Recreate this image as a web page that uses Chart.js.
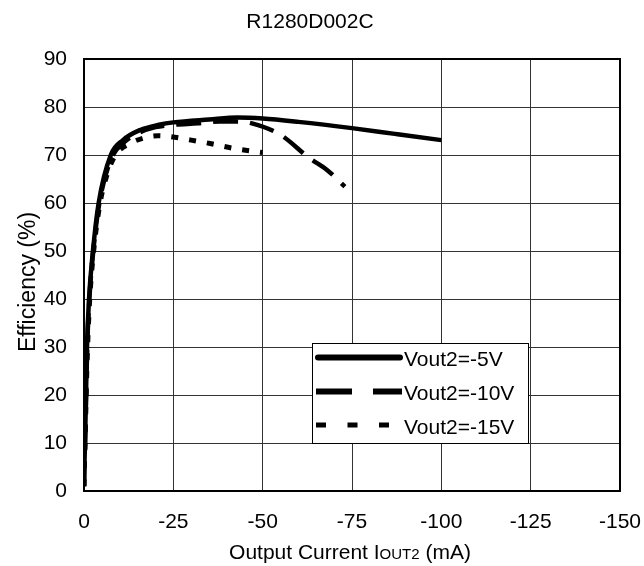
<!DOCTYPE html>
<html><head><meta charset="utf-8">
<script src="https://cdn.jsdelivr.net/npm/chart.js@4"></script>
<style>html,body{margin:0;padding:0;background:#fff;} canvas{display:block;}</style>
</head><body>
<canvas id="c" width="644" height="566"></canvas>
<script>
const chartTitle = 'R1280D002C';
const yTitle = 'Efficiency (%)';
const xTitleParts = ['Output Current I', 'OUT2', ' (mA)'];
const seriesLabels = ['Vout2=-5V', 'Vout2=-10V', 'Vout2=-15V'];

const iout5 = [0, -0.1, -0.28, -0.56, -0.84, -1.4, -2.5, -4.1, -7.5, -10.9, -15.7, -21, -25, -35, -43, -50, -60, -75, -87, -100];
const eff5  = [1, 5, 10, 20, 30, 40, 50, 60, 70, 73.1, 75.2, 76.3, 76.8, 77.4, 77.8, 77.6, 76.9, 75.6, 74.4, 73.1];

const iout10 = [0, -0.1, -0.3, -0.6, -0.9, -1.5, -2.6, -4.3, -7.8, -11, -15, -20, -25, -32, -38, -43, -47, -55, -63, -68, -73];
const eff10  = [1, 5, 10, 20, 30, 40, 50, 60, 69.5, 72.5, 74.5, 75.8, 76.3, 76.6, 77, 77, 76.6, 74.2, 69.4, 66.9, 63.4];

const iout15 = [0, -0.1, -0.3, -0.6, -1, -1.6, -2.7, -4.5, -6.5, -8.8, -12.9, -17.5, -20.7, -25.4, -30, -35.3, -41.7, -48, -50];
const eff15  = [1, 5, 10, 20, 30, 40, 50, 60, 66, 70, 72.4, 73.7, 74, 73.7, 73.1, 72.4, 71.4, 70.7, 70.5];

const xTicks = [0, -25, -50, -75, -100, -125, -150];
const yTicks = [0, 10, 20, 30, 40, 50, 60, 70, 80, 90];

const FONT = '"Liberation Sans", Arial, sans-serif';
const toPts = (xs, ys) => xs.map((x, i) => ({x: x, y: ys[i]}));

const decor = {
  id: 'decor',
  afterDatasetsDraw(chart) {
    const {ctx, chartArea: a} = chart;
    ctx.save();
    ctx.setLineDash([]);
    ctx.strokeStyle = '#000';
    ctx.lineWidth = 2;
    ctx.strokeRect(a.left, a.top, a.right - a.left, a.bottom - a.top);
    const bx = 312, by = 343, bw = 216, bh = 100;
    ctx.fillStyle = '#fff';
    ctx.fillRect(bx, by, bw, bh);
    ctx.lineWidth = 1;
    ctx.strokeRect(bx + 0.5, by + 0.5, bw, bh);
    const rows = [
      {y: 357.5, dash: [], w: 6, cap: 'round', x0: 318, x1: 400, base: 366},
      {y: 391.5, dash: [36, 21], w: 6, cap: 'butt', x0: 316, x1: 402, base: 400},
      {y: 425, dash: [10, 21.5], w: 5, cap: 'butt', x0: 316, x1: 390, base: 433.5}
    ];
    ctx.font = '21px ' + FONT;
    ctx.textBaseline = 'alphabetic';
    ctx.textAlign = 'left';
    rows.forEach((r, i) => {
      ctx.beginPath();
      ctx.setLineDash(r.dash);
      ctx.lineCap = r.cap;
      ctx.lineWidth = r.w;
      ctx.moveTo(r.x0, r.y);
      ctx.lineTo(r.x1, r.y);
      ctx.stroke();
      ctx.fillStyle = '#000';
      ctx.fillText(chart.data.datasets[i].label, 404, r.base);
    });
    ctx.restore();
  },
  afterDraw(chart) {
    const {ctx} = chart;
    ctx.save();
    ctx.fillStyle = '#000';
    const fonts = ['21px ' + FONT, '15px ' + FONT, '21px ' + FONT];
    let widths = xTitleParts.map((t, i) => { ctx.font = fonts[i]; return ctx.measureText(t).width; });
    const total = widths.reduce((s, w) => s + w, 0);
    let x = 350 - total / 2;
    ctx.textBaseline = 'alphabetic';
    ctx.textAlign = 'left';
    xTitleParts.forEach((t, i) => { ctx.font = fonts[i]; ctx.fillText(t, x, 559); x += widths[i]; });
    ctx.translate(35, 282);
    ctx.rotate(-Math.PI / 2);
    ctx.font = '23px ' + FONT;
    ctx.textAlign = 'center';
    ctx.fillText(yTitle, 0, 0);
    ctx.restore();
  }
};

new Chart(document.getElementById('c'), {
  type: 'line',
  data: {
    datasets: [
      {label: seriesLabels[0], data: toPts(iout5, eff5), borderColor: '#000', borderWidth: 4.5, borderDash: []},
      {label: seriesLabels[1], data: toPts(iout10, eff10), borderColor: '#000', borderWidth: 4.5, borderDash: [25, 12]},
      {label: seriesLabels[2], data: toPts(iout15, eff15), borderColor: '#000', borderWidth: 5, borderDash: [7, 11]}
    ]
  },
  options: {
    responsive: false,
    animation: false,
    devicePixelRatio: 1,
    elements: {
      point: {radius: 0, hoverRadius: 0},
      line: {cubicInterpolationMode: 'monotone', borderCapStyle: 'butt', borderJoinStyle: 'round', fill: false}
    },
    layout: {padding: {left: 0, right: 24, top: 0, bottom: 0}},
    plugins: {
      legend: {display: false},
      tooltip: {enabled: false},
      title: {
        display: true, text: chartTitle, color: '#000',
        font: {family: FONT, size: 21, weight: 'normal'},
        padding: {top: 10, bottom: 23.8}
      }
    },
    scales: {
      x: {
        type: 'linear', min: -150, max: 0, reverse: true,
        afterBuildTicks: s => { s.ticks = xTicks.map(v => ({value: v})); },
        afterFit: s => { s.height = 75; s.paddingLeft = 0; s.paddingRight = 0; },
        ticks: {color: '#000', font: {family: FONT, size: 21}, padding: 19, maxRotation: 0, autoSkip: false},
        grid: {color: '#333', lineWidth: 1, drawTicks: false},
        border: {display: false}
      },
      y: {
        type: 'linear', min: 0, max: 90,
        afterBuildTicks: s => { s.ticks = yTicks.map(v => ({value: v})); },
        afterFit: s => { s.width = 84; },
        ticks: {color: '#000', font: {family: FONT, size: 21}, padding: 17, autoSkip: false},
        grid: {color: '#333', lineWidth: 1, drawTicks: false},
        border: {display: false}
      }
    }
  },
  plugins: [decor]
});
</script>
</body></html>
